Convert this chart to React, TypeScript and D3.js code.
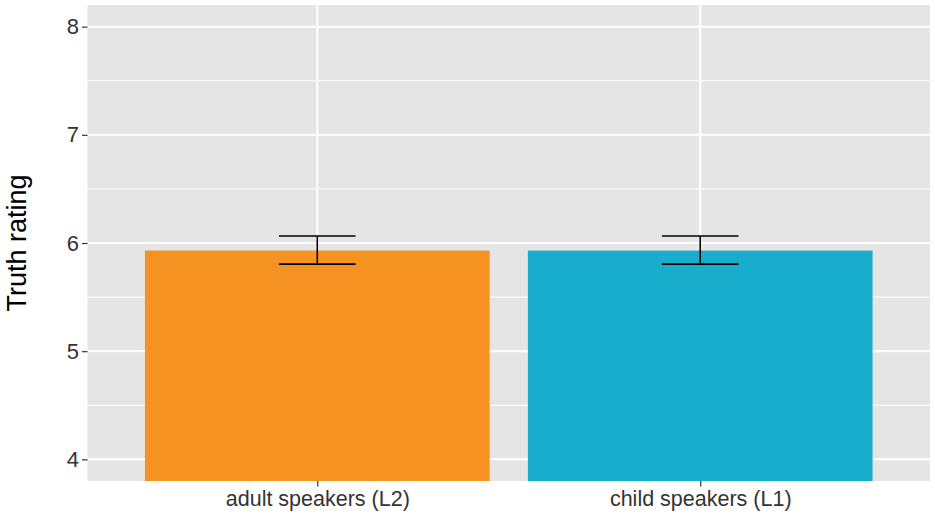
import { useEffect, useRef } from "react";
import * as d3 from "d3";

const groups = ["adult speakers (L2)", "child speakers (L1)"];
const means = [5.93, 5.93];
const lower = [5.805, 5.805];
const upper = [6.065, 6.065];
const colors = ["#F69222", "#18ADCD"];
const majorTicks = [4, 5, 6, 7, 8];
const minorTicks = [4.5, 5.5, 6.5, 7.5];

export default function App() {
  const svgRef = useRef<SVGSVGElement>(null);

  useEffect(() => {
    if (!svgRef.current) return;
    const svg = d3.select(svgRef.current);
    svg.selectAll("*").remove();

    const width = 935;
    const height = 515;
    const margin = { top: 5, right: 5, bottom: 34, left: 87.5 };
    const W = width - margin.left - margin.right;
    const H = height - margin.top - margin.bottom;
    const font = "'Liberation Sans', Arial, sans-serif";

    const x = d3.scalePoint().domain(groups).range([0, W]).padding(0.6);
    const step = x.step();
    const y = d3.scaleLinear().domain([3.8, 8.2]).range([H, 0]);

    const g = svg
      .append("g")
      .attr("transform", `translate(${margin.left},${margin.top})`);

    // panel
    g.append("rect")
      .attr("width", W)
      .attr("height", H)
      .attr("fill", "#E5E5E5");

    // grid
    g.selectAll(".minor")
      .data(minorTicks)
      .join("line")
      .attr("x1", 0)
      .attr("x2", W)
      .attr("y1", (d) => y(d))
      .attr("y2", (d) => y(d))
      .attr("stroke", "#fff")
      .attr("stroke-width", 1);
    g.selectAll(".major")
      .data(majorTicks)
      .join("line")
      .attr("x1", 0)
      .attr("x2", W)
      .attr("y1", (d) => y(d))
      .attr("y2", (d) => y(d))
      .attr("stroke", "#fff")
      .attr("stroke-width", 2);
    g.selectAll(".vmajor")
      .data(groups)
      .join("line")
      .attr("x1", (d) => x(d)!)
      .attr("x2", (d) => x(d)!)
      .attr("y1", 0)
      .attr("y2", H)
      .attr("stroke", "#fff")
      .attr("stroke-width", 2);

    // bars
    const bw = step * 0.9;
    g.selectAll(".bar")
      .data(groups)
      .join("rect")
      .attr("x", (d) => x(d)! - bw / 2)
      .attr("width", bw)
      .attr("y", (_, i) => y(means[i]))
      .attr("height", (_, i) => y(3.8) - y(means[i]))
      .attr("fill", (_, i) => colors[i]);

    // error bars
    const ew = step * 0.2;
    groups.forEach((d, i) => {
      const cx = x(d)!;
      const eb = g.append("g").attr("stroke", "#000").attr("stroke-width", 1.6);
      eb.append("line")
        .attr("x1", cx)
        .attr("x2", cx)
        .attr("y1", y(upper[i]))
        .attr("y2", y(lower[i]));
      [upper[i], lower[i]].forEach((v) =>
        eb
          .append("line")
          .attr("x1", cx - ew / 2)
          .attr("x2", cx + ew / 2)
          .attr("y1", y(v))
          .attr("y2", y(v))
      );
    });

    // y axis
    const ya = g
      .append("g")
      .call(
        d3
          .axisLeft(y)
          .tickValues(majorTicks)
          .tickFormat(d3.format("d"))
          .tickSize(5.5)
          .tickPadding(3)
      )
      .call((s) => s.select(".domain").remove());
    ya.selectAll(".tick line").attr("stroke", "#333").attr("stroke-width", 1.2);
    ya.selectAll(".tick text")
      .attr("fill", "#333")
      .attr("font-size", 22)
      .attr("font-family", font);

    // x axis
    const xa = g
      .append("g")
      .attr("transform", `translate(0,${H})`)
      .call(d3.axisBottom(x).tickSize(5.5).tickPadding(4))
      .call((s) => s.select(".domain").remove());
    xa.selectAll(".tick line").attr("stroke", "#333").attr("stroke-width", 1.2);
    xa.selectAll(".tick text")
      .attr("fill", "#333")
      .attr("font-size", 21.5)
      .attr("font-family", font);

    // y title
    svg
      .append("text")
      .attr("transform", `translate(26,${margin.top + H / 2}) rotate(-90)`)
      .attr("text-anchor", "middle")
      .attr("font-size", 27)
      .attr("font-family", font)
      .attr("fill", "#000")
      .text("Truth rating");
  }, []);

  return (
    <div style={{ position: "absolute", left: 0, top: 0, background: "#fff" }}>
      <svg ref={svgRef} width={935} height={515} style={{ display: "block" }} />
    </div>
  );
}
